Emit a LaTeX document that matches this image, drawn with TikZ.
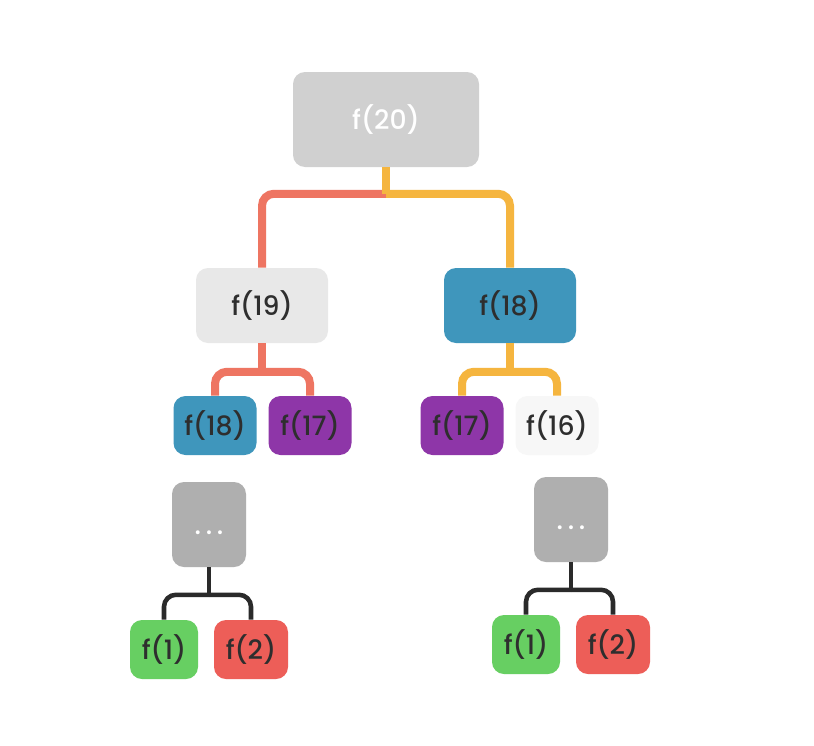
\documentclass[tikz,border=0pt]{standalone}
\usepackage{fontspec}
\setmainfont{Poppins}
\newfontfamily\boxfont{Poppins}[UprightFont={* Medium}]
\usetikzlibrary{calc}
\definecolor{cRoot}{HTML}{D0D0D0}
\definecolor{cLight}{HTML}{E8E8E8}
\definecolor{cBlue}{HTML}{3F96BC}
\definecolor{cPurple}{HTML}{8E36A8}
\definecolor{cWhiteish}{HTML}{F7F7F7}
\definecolor{cDots}{HTML}{AFAFAF}
\definecolor{cGreen}{HTML}{67CF62}
\definecolor{cRed}{HTML}{ED5E58}
\definecolor{cOrange}{HTML}{EE7562}
\definecolor{cYellow}{HTML}{F5B53F}
\definecolor{cDark}{HTML}{2A2A2A}
\definecolor{cText}{HTML}{2E2E2E}
\tikzset{
  box/.style={rounded corners=9pt, inner sep=0pt, text=cText, font=\boxfont\fontsize{20}{24}\selectfont},
  bigbox/.style={box, minimum width=139.5pt, minimum height=71.25pt},
  midbox/.style={box, minimum width=99pt, minimum height=56.25pt},
  smallbox/.style={box, minimum width=62.25pt, minimum height=44.25pt},
  dotbox/.style={box, fill=cDots, text=white, minimum width=55.5pt, minimum height=63.75pt},
  leafbox/.style={box, minimum height=44.25pt},
  orangeline/.style={draw=cOrange, line width=6pt, rounded corners=9pt},
  yellowline/.style={draw=cYellow, line width=6pt, rounded corners=9pt},
  darkline/.style={draw=cDark, line width=3.4pt, rounded corners=9pt},
}
\begin{document}
\begin{tikzpicture}[x=0.75pt, y=-0.75pt]
\useasboundingbox[fill=white] (0,0) rectangle (814,746);
% nodes
\node[bigbox, fill=cRoot, text=white] (f20) at (386,119.5) {f(20)};
\node[midbox, fill=cLight] (f19) at (262,305.5) {f(19)};
\node[midbox, fill=cBlue] (f18a) at (510,305.5) {f(18)};
\node[smallbox, fill=cBlue] (f18b) at (215,425.5) {f(18)};
\node[smallbox, fill=cPurple] (f17a) at (310,425.5) {f(17)};
\node[smallbox, fill=cPurple] (f17b) at (462,425.5) {f(17)};
\node[smallbox, fill=cWhiteish] (f16) at (557,425.5) {f(16)};
\node[dotbox] (dl) at (209,524.5) {\vphantom{f(1)}.\hspace{3.5pt}.\hspace{3.5pt}.};
\node[dotbox] (dr) at (571,519.5) {\vphantom{f(1)}.\hspace{3.5pt}.\hspace{3.5pt}.};
\node[leafbox, fill=cGreen, minimum width=51pt] (f1l) at (164,649.5) {f(1)};
\node[leafbox, fill=cRed, minimum width=55.5pt] (f2l) at (251,649.5) {f(2)};
\node[leafbox, fill=cGreen, minimum width=51pt] (f1r) at (526,644.5) {f(1)};
\node[leafbox, fill=cRed, minimum width=55.5pt] (f2r) at (613,644.5) {f(2)};
% junctions
\coordinate (j0) at ($(f20.south)+(0,26.5)$);
\coordinate (j1) at ($(f19.south)+(0,28.5)$);
\coordinate (j2) at ($(f18a.south)+(0,28.5)$);
\coordinate (j3) at ($(dl.south)+(0,27.5)$);
\coordinate (j4) at ($(dr.south)+(0,27.5)$);
% connectors
\draw[orangeline] (j0) -| (f19.north);
\draw[yellowline] (j0) -| (f18a.north);
\draw[yellowline] (f20.south) -- (j0);
\draw[orangeline] (f19.south) -- (j1);
\draw[orangeline] (j1) -| (f18b.north);
\draw[orangeline] (j1) -| (f17a.north);
\draw[yellowline] (f18a.south) -- (j2);
\draw[yellowline] (j2) -| (f17b.north);
\draw[yellowline] (j2) -| (f16.north);
\draw[darkline] (dl.south) -- (j3);
\draw[darkline] (j3) -| (f1l.north);
\draw[darkline] (j3) -| (f2l.north);
\draw[darkline] (dr.south) -- (j4);
\draw[darkline] (j4) -| (f1r.north);
\draw[darkline] (j4) -| (f2r.north);
\end{tikzpicture}
\end{document}
